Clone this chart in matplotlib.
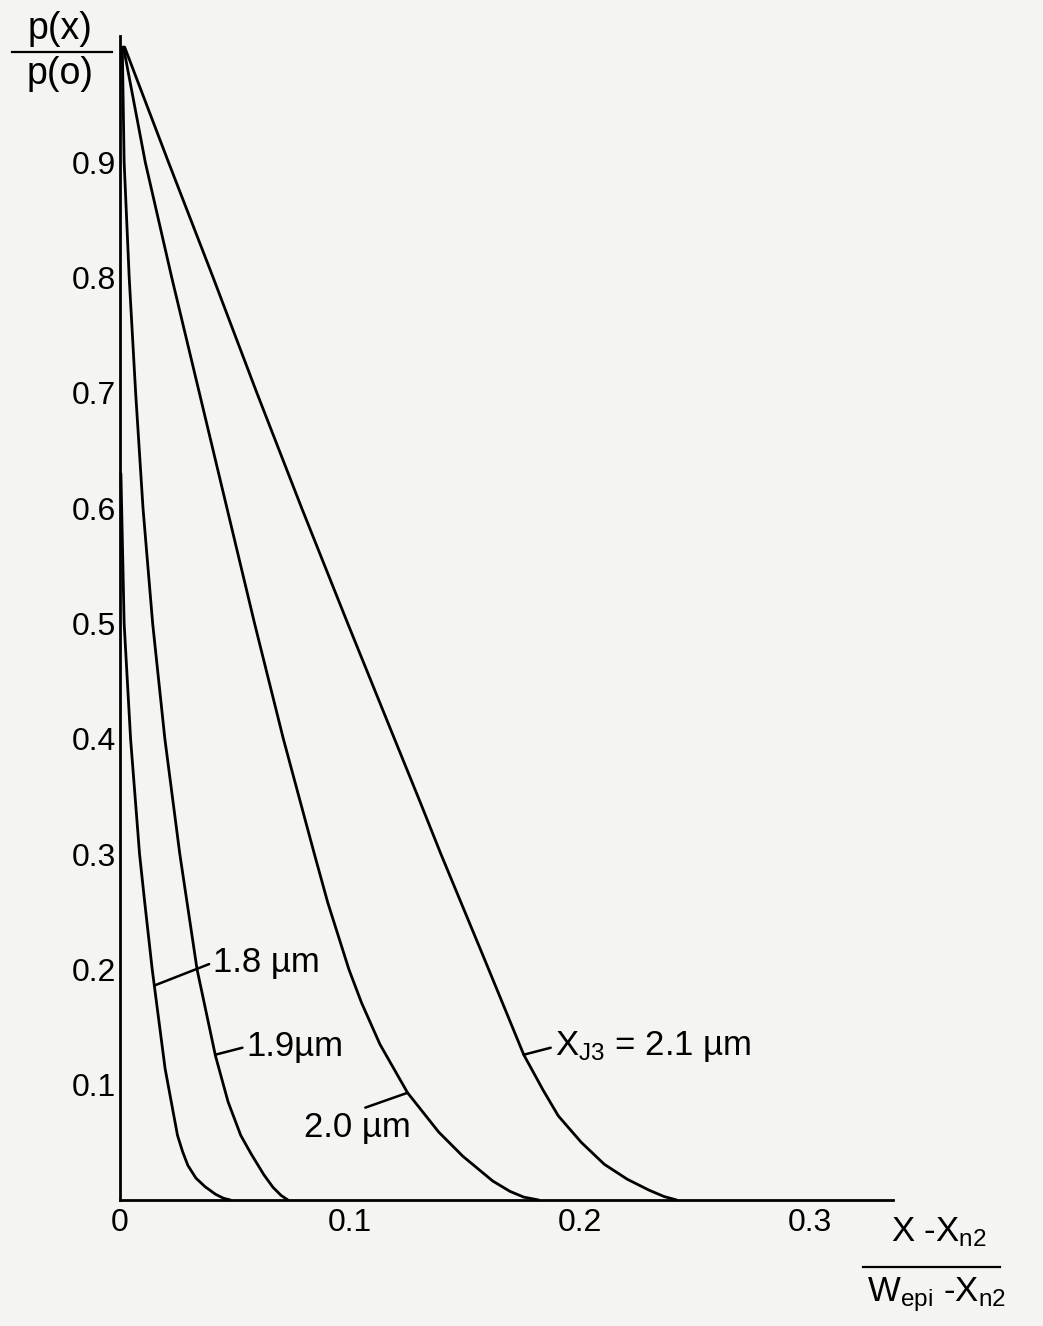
import numpy as np
import matplotlib
matplotlib.use("Agg")
import matplotlib.pyplot as plt
from matplotlib.lines import Line2D

plt.rcParams['font.family'] = ['Liberation Sans', 'DejaVu Sans']
plt.rcParams['mathtext.default'] = 'regular'

# curves: normalised profile p(x)/p(o) vs (x - x_n2)/(W_epi - x_n2)
y_18 = [0.63, 0.5, 0.4, 0.3, 0.259, 0.2, 0.114, 0.056, 0.042, 0.030, 0.019, 0.0115, 0.005, 0.0015, 0.0]
x_18 = [0.0004, 0.0018, 0.0046, 0.0085, 0.0107, 0.0140, 0.0196, 0.0250, 0.0272, 0.0295, 0.0330, 0.0370, 0.0415, 0.0450, 0.048]

y_19 = [1.0, 0.9, 0.8, 0.7, 0.6, 0.5, 0.4, 0.3, 0.2, 0.125, 0.085, 0.056, 0.040, 0.022, 0.011, 0.004, 0.0]
x_19 = [0.001, 0.0018, 0.0040, 0.0068, 0.0100, 0.0142, 0.0195, 0.0260, 0.0335, 0.0415, 0.0470, 0.0525, 0.0570, 0.0625, 0.0665, 0.0700, 0.073]

y_20 = [1.0, 0.9, 0.8, 0.7, 0.6, 0.5, 0.4, 0.3, 0.258, 0.2, 0.171, 0.135, 0.093, 0.059, 0.038, 0.0165, 0.0075, 0.0025, 0.0]
x_20 = [0.0015, 0.0110, 0.0225, 0.0345, 0.0465, 0.0585, 0.0710, 0.0845, 0.0903, 0.0995, 0.1050, 0.1130, 0.1250, 0.1385, 0.1490, 0.1620, 0.1695, 0.1755, 0.182]

y_21 = [1.0, 0.9, 0.8, 0.7, 0.6, 0.5, 0.4, 0.345, 0.3, 0.21, 0.126, 0.095, 0.073, 0.050, 0.031, 0.018, 0.0085, 0.003, 0.0]
x_21 = [0.002, 0.0211, 0.0405, 0.0595, 0.0790, 0.0990, 0.1193, 0.1305, 0.1395, 0.1582, 0.1755, 0.1840, 0.1905, 0.2005, 0.2105, 0.2205, 0.2300, 0.2365, 0.242]

curves = [(x_18, y_18), (x_19, y_19), (x_20, y_20), (x_21, y_21)]

x_ticks = [0, 0.1, 0.2, 0.3]
x_ticklabels = ['0', '0.1', '0.2', '0.3']
y_ticks = [0.1, 0.2, 0.3, 0.4, 0.5, 0.6, 0.7, 0.8, 0.9]
y_ticklabels = ['0.1', '0.2', '0.3', '0.4', '0.5', '0.6', '0.7', '0.8', '0.9']

W, H = 1043, 1326
fig = plt.figure(figsize=(W / 100, H / 100), dpi=100, facecolor='#f4f4f2')
ax = fig.add_axes([120 / W, (H - 1200) / H, 773 / W, 1164.5 / H])
ax.set_facecolor('#f4f4f2')

for xs, ys in curves:
    ax.plot(xs, ys, color='black', lw=2.0, solid_capstyle='round',
            solid_joinstyle='round', clip_on=False)

ax.set_xlim(0, 0.336)
ax.set_ylim(0, 1.01)
for s in ['top', 'right']:
    ax.spines[s].set_visible(False)
for s in ['left', 'bottom']:
    ax.spines[s].set_linewidth(2.0)

ax.set_xticks(x_ticks)
ax.set_xticklabels(x_ticklabels)
ax.set_yticks(y_ticks)
ax.set_yticklabels(y_ticklabels)
ax.tick_params(axis='both', length=0, labelsize=23)
ax.tick_params(axis='x', pad=6)
ax.tick_params(axis='y', pad=3)


def lead(xs, ys, yc, text, xt, yt, relpos=(0, 0.5)):
    # point on the curve at height yc, leader line to the label
    xc = np.interp(yc, ys[::-1], xs[::-1])
    ax.annotate(text, xy=(xc, yc), xytext=(xt, yt), ha='left', va='center', fontsize=25,
                arrowprops=dict(arrowstyle='-', color='black', lw=1.8,
                                shrinkA=1, shrinkB=0, relpos=relpos))


lead(x_18, y_18, 0.186, '1.8 µm', 0.0405, 0.206)
lead(x_19, y_19, 0.126, '1.9µm', 0.0550, 0.133)
lead(x_20, y_20, 0.093, '2.0 µm', 0.0800, 0.063, relpos=(0.40, 0.9))
lead(x_21, y_21, 0.126, 'X$_{J3}$ = 2.1 µm', 0.1890, 0.133)

# y axis label as a fraction
fig.text(60 / W, 1 - 29 / H, 'p(x)', ha='center', va='center', fontsize=27)
fig.add_artist(Line2D([12 / W, 112 / W], [1 - 52 / H] * 2, color='black', lw=1.6))
fig.text(60 / W, 1 - 74 / H, 'p(o)', ha='center', va='center', fontsize=27)

# x axis label as a fraction
fig.text(939 / W, 1 - 1232 / H, 'X -X$_{n2}$', ha='center', va='center', fontsize=25)
fig.add_artist(Line2D([863 / W, 1000 / W], [1 - 1267 / H] * 2, color='black', lw=1.6))
fig.text(937 / W, 1 - 1295 / H, 'W$_{epi}$ -X$_{n2}$', ha='center', va='center', fontsize=25)

fig.savefig('out.png', dpi=100, facecolor=fig.get_facecolor())
